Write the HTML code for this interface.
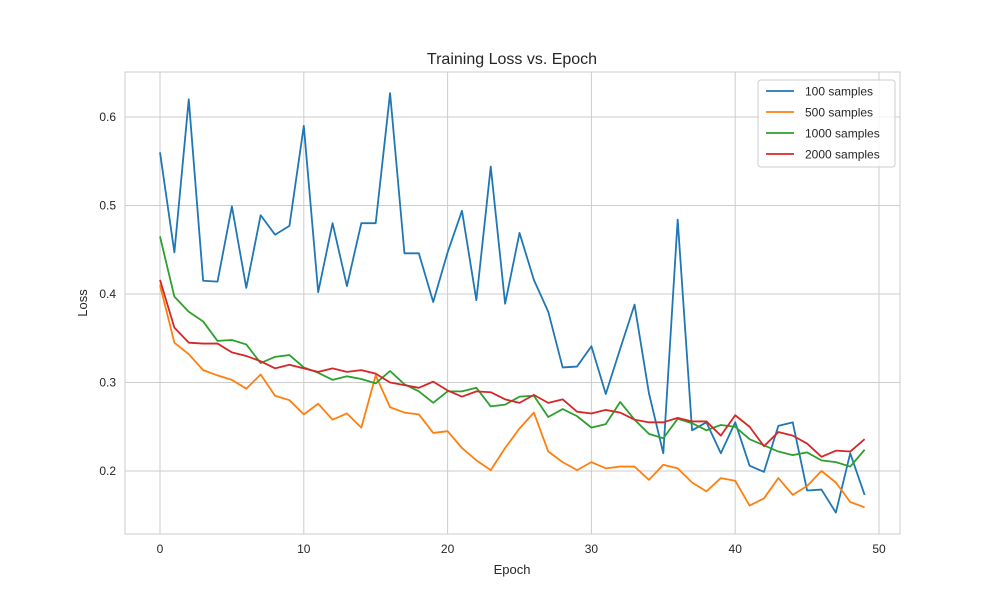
<!DOCTYPE html>
<html><head><meta charset="utf-8"><style>
body{margin:0;background:#fff;font-family:"Liberation Sans","DejaVu Sans",sans-serif;}
svg text{font-family:"Liberation Sans","DejaVu Sans",sans-serif;fill:#262626;}
</style></head><body>
<svg id="chart" width="1000" height="600" xmlns="http://www.w3.org/2000/svg">
<rect width="1000" height="600" fill="#fff"/>
<g id="grid"></g>
<g id="series"></g>
<rect x="125" y="72" width="775" height="462" fill="none" stroke="#ccc" stroke-width="1"/>
<text x="512" y="64" text-anchor="middle" font-size="16">Training Loss vs. Epoch</text>
<text x="512" y="574" text-anchor="middle" font-size="13">Epoch</text>
<text x="87" y="303" text-anchor="middle" font-size="13" transform="rotate(-90 87 303)">Loss</text>
<g id="legend"></g>
</svg>
<script>
const epochs=[...Array(50).keys()];
const s100=[0.560,0.447,0.620,0.415,0.414,0.499,0.407,0.489,0.467,0.477,0.590,0.402,0.480,0.409,0.480,0.480,0.627,0.446,0.446,0.391,0.447,0.494,0.393,0.544,0.389,0.469,0.416,0.380,0.317,0.318,0.341,0.287,0.338,0.388,0.288,0.220,0.484,0.246,0.255,0.220,0.255,0.206,0.199,0.251,0.255,0.178,0.179,0.153,0.220,0.173];
const s500=[0.410,0.345,0.332,0.314,0.308,0.303,0.293,0.309,0.285,0.280,0.264,0.276,0.258,0.265,0.249,0.308,0.272,0.266,0.264,0.243,0.245,0.226,0.212,0.201,0.226,0.248,0.266,0.222,0.210,0.201,0.210,0.203,0.205,0.205,0.190,0.207,0.203,0.187,0.177,0.192,0.189,0.161,0.169,0.192,0.173,0.183,0.200,0.187,0.165,0.159];
const s1000=[0.465,0.397,0.380,0.369,0.347,0.348,0.343,0.322,0.329,0.331,0.317,0.311,0.303,0.307,0.304,0.299,0.313,0.298,0.290,0.277,0.290,0.290,0.294,0.273,0.275,0.284,0.285,0.261,0.270,0.262,0.249,0.253,0.278,0.258,0.242,0.237,0.259,0.254,0.246,0.252,0.250,0.236,0.229,0.222,0.218,0.221,0.212,0.210,0.205,0.224];
const s2000=[0.416,0.362,0.345,0.344,0.344,0.334,0.330,0.324,0.316,0.320,0.316,0.312,0.316,0.312,0.314,0.310,0.300,0.297,0.294,0.301,0.291,0.284,0.290,0.289,0.281,0.277,0.286,0.277,0.281,0.267,0.265,0.269,0.266,0.258,0.255,0.255,0.260,0.256,0.256,0.240,0.263,0.250,0.228,0.244,0.240,0.231,0.216,0.223,0.222,0.236];
const seriesLabels=["100 samples","500 samples","1000 samples","2000 samples"];
const seriesColors=["#1f77b4","#ff7f0e","#2ca02c","#d62728"];
const xTicks=[0,10,20,30,40,50];
const yTicks=[0.2,0.3,0.4,0.5,0.6];
const NS="http://www.w3.org/2000/svg";
const xs=v=>160+(v)*(879-160)/50;
const ys=v=>117+(0.6-v)*885;
const grid=document.getElementById('grid');
function mk(tag,attrs,parent){const e=document.createElementNS(NS,tag);for(const k in attrs)e.setAttribute(k,attrs[k]);parent.appendChild(e);return e;}
xTicks.forEach(t=>{
  const l=mk('line',{x1:xs(t),x2:xs(t),y1:72,y2:534,stroke:'#ccc','stroke-width':1},grid);
  
  
  const tx=mk('text',{x:xs(t),y:553,'text-anchor':'middle','font-size':12},grid);
  tx.textContent=t;
  
  
});
yTicks.forEach(t=>{
  const l=mk('line',{x1:125,x2:900,y1:ys(t),y2:ys(t),stroke:'#ccc','stroke-width':1},grid);
  
  
  const tx=mk('text',{x:116,y:ys(t)+4,'text-anchor':'end','font-size':12},grid);
  tx.textContent=t.toFixed(1);
  
  
});
const sg=document.getElementById('series');
[s100,s500,s1000,s2000].forEach((s,i)=>{
  const p=mk('polyline',{points:s.map((v,j)=>xs(epochs[j])+','+ys(v)).join(' '),fill:'none',stroke:seriesColors[i],'stroke-width':1.8,'stroke-linejoin':'round'},sg);
  
  
});
const lg=document.getElementById('legend');
const box=mk('rect',{x:758,y:80,width:137,height:87,rx:3,fill:'#fff','fill-opacity':0.8,stroke:'#ccc'},lg);


seriesLabels.forEach((lab,i)=>{
  const y=91+i*21;
  const l=mk('line',{x1:766,x2:794,y1:y,y2:y,stroke:seriesColors[i],'stroke-width':1.8},lg);
  
  
  const t=mk('text',{x:805,y:y+4.5,'font-size':12},lg);
  t.textContent=lab;
  
  
});
</script>
</body></html>
